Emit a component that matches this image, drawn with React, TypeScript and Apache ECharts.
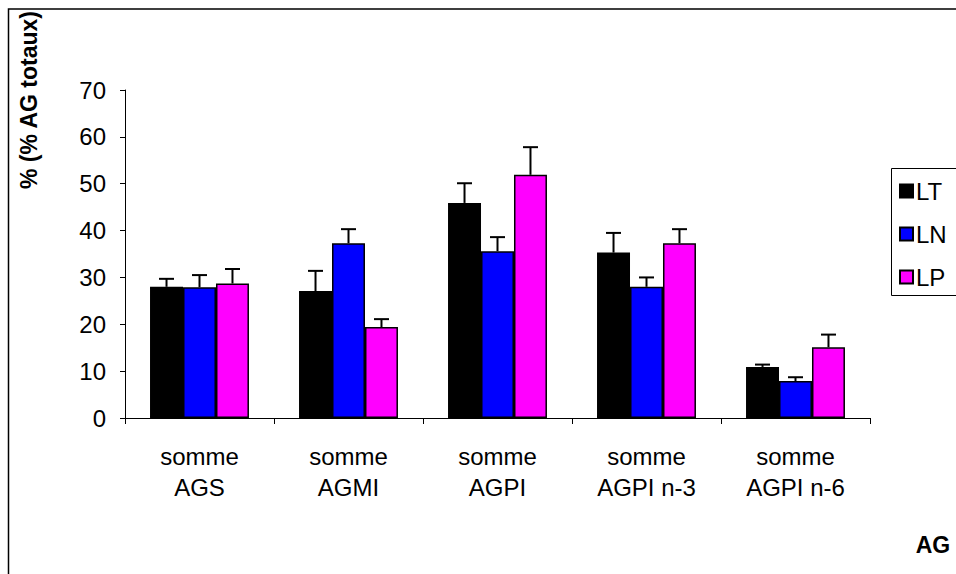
import React, { useEffect, useRef } from "react";
import * as echarts from "echarts";

const categories = ["somme\nAGS", "somme\nAGMI", "somme\nAGPI", "somme\nAGPI n-3", "somme\nAGPI n-6"];
const seriesNames = ["LT", "LN", "LP"];
const seriesColors = ["#000000", "#0000FF", "#FF00FF"];
const ltValues = [28.0, 27.1, 45.9, 35.3, 10.9];
const ltErrors = [1.7, 4.3, 4.2, 4.2, 0.5];
const lnValues = [27.9, 37.3, 35.6, 28.0, 7.9];
const lnErrors = [2.6, 3.0, 3.0, 2.0, 0.8];
const lpValues = [28.7, 19.4, 51.9, 37.3, 15.1];
const lpErrors = [3.1, 1.7, 5.9, 3.0, 2.7];
const yTicks = [0, 10, 20, 30, 40, 50, 60, 70];

const FONT = "'Liberation Sans', Arial, sans-serif";
const CAT_GAP = 0.336;

export default function App() {
  const ref = useRef<HTMLDivElement>(null);
  useEffect(() => {
    if (!ref.current) return;
    const chart = echarts.init(ref.current, null, { renderer: "svg" });
    const values = [ltValues, lnValues, lpValues];
    const errors = [ltErrors, lnErrors, lpErrors];

    const barSeries = seriesNames.map((name, i) => ({
      name,
      type: "bar",
      data: values[i],
      barGap: "0%",
      barCategoryGap: (CAT_GAP * 100).toFixed(1) + "%",
      itemStyle: { color: seriesColors[i], borderColor: "#000", borderWidth: 1.5 },
      z: 2,
    }));

    const errSeries = seriesNames.map((name, i) => ({
      name: name + " err",
      type: "custom",
      z: 3,
      data: values[i].map((v, k) => [k, v, v + errors[i][k]]),
      renderItem: (params: any, api: any) => {
        const k = api.value(0);
        const catW = api.size([1, 0])[0];
        const barW = (catW * (1 - CAT_GAP)) / 3;
        const base = api.coord([k, api.value(1)]);
        const top = api.coord([k, api.value(2)]);
        const cx = base[0] + (i - 1) * barW;
        const half = 7.5;
        return {
          type: "group",
          children: [
            { type: "line", shape: { x1: cx, y1: base[1], x2: cx, y2: top[1] }, style: { stroke: "#000", lineWidth: 2 } },
            { type: "line", shape: { x1: cx - half, y1: top[1], x2: cx + half, y2: top[1] }, style: { stroke: "#000", lineWidth: 2 } },
          ],
        };
      },
      silent: true,
    }));

    chart.setOption({
      animation: false,
      backgroundColor: "#ffffff",
      textStyle: { fontFamily: FONT },
      grid: { left: 125, right: 86, top: 90, bottom: 156, containLabel: false },
      legend: {
        data: seriesNames,
        orient: "vertical",
        left: 899,
        top: 179,
        padding: 0,
        itemWidth: 13,
        itemHeight: 13,
        itemGap: 19,
        icon: "rect",
        textStyle: { fontSize: 24, lineHeight: 24, color: "#000", fontFamily: FONT, padding: [0, 0, 0, -2] },
      },
      xAxis: {
        type: "category",
        data: categories,
        axisLine: { lineStyle: { color: "#000", width: 1 } },
        axisTick: { show: true, length: 6, lineStyle: { color: "#000" } },
        axisLabel: { color: "#000", fontSize: 24, lineHeight: 31, margin: 23, fontFamily: FONT, interval: 0 },
        splitLine: { show: false },
      },
      yAxis: {
        type: "value",
        min: yTicks[0],
        max: yTicks[yTicks.length - 1],
        interval: 10,
        axisLine: { show: true, lineStyle: { color: "#000", width: 1 } },
        axisTick: { show: true, length: 5, lineStyle: { color: "#000" } },
        axisLabel: { color: "#000", fontSize: 24, margin: 19, fontFamily: FONT },
        splitLine: { show: false },
      },
      graphic: [
        {
          type: "rect",
          shape: { x: 8.5, y: 9, width: 1200, height: 1000 },
          style: { fill: "none", stroke: "#000", lineWidth: 1.5 },
          silent: true,
        },
        {
          type: "rect",
          shape: { x: 891.5, y: 168.5, width: 200, height: 127 },
          style: { fill: "none", stroke: "#000", lineWidth: 1 },
          silent: true,
        },
        {
          type: "text",
          x: 29,
          y: 100,
          rotation: Math.PI / 2,
          style: {
            text: "% (% AG totaux)",
            font: "bold 23px " + FONT,
            fill: "#000",
            textAlign: "center",
            textVerticalAlign: "middle",
          },
        },
        {
          type: "text",
          x: 933,
          y: 545,
          style: {
            text: "AG",
            font: "bold 23px " + FONT,
            fill: "#000",
            textAlign: "center",
            textVerticalAlign: "middle",
          },
        },
      ],
      series: [...barSeries, ...errSeries],
    });
    return () => chart.dispose();
  }, []);
  return <div ref={ref} style={{ position: "fixed", left: 0, top: 0, width: 956, height: 574 }} />;
}
